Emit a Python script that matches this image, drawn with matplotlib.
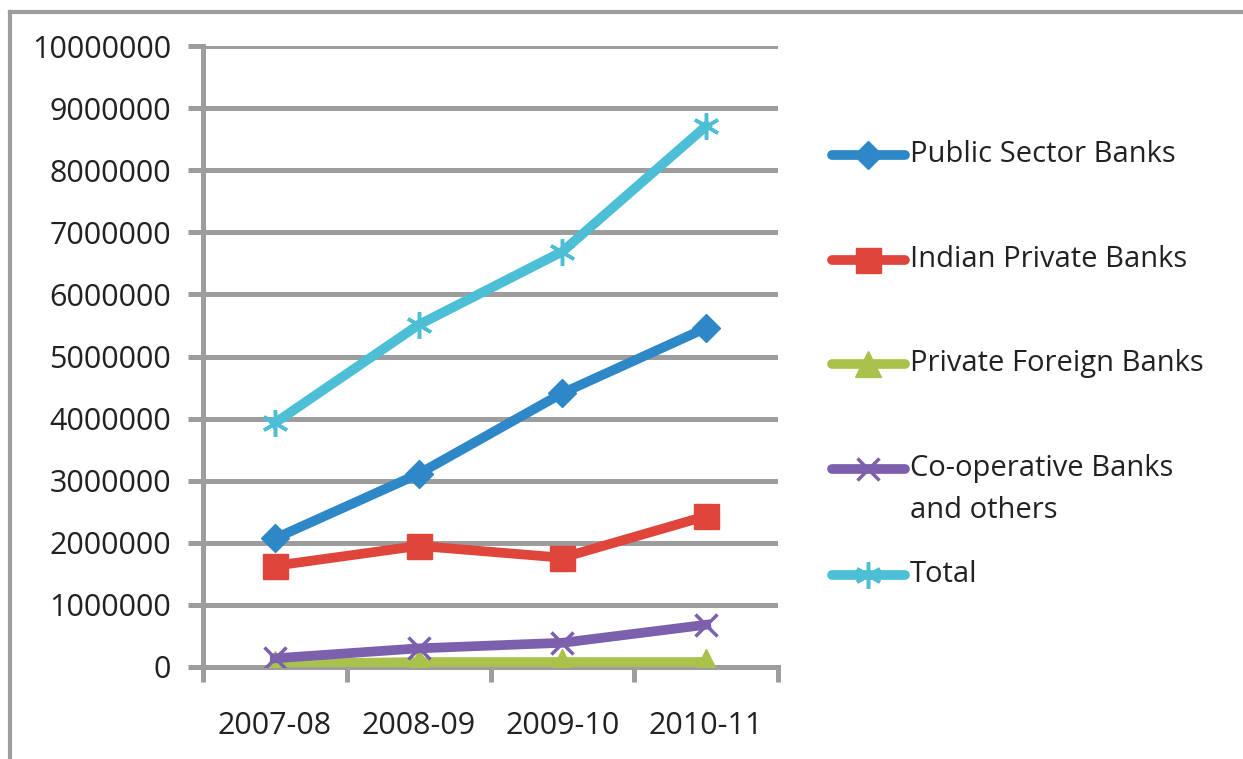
import matplotlib.pyplot as plt
from matplotlib.lines import Line2D

years = ["2007-08", "2008-09", "2009-10", "2010-11"]
public_sector = [2070000, 3110000, 4410000, 5460000]
indian_private = [1630000, 1950000, 1760000, 2430000]
private_foreign = [50000, 80000, 80000, 80000]
cooperative = [140000, 300000, 390000, 680000]
total = [3930000, 5510000, 6690000, 8710000]

plt.rcParams['font.family'] = ['Open Sans', 'DejaVu Sans']

W, H = 1243, 759
fig = plt.figure(figsize=(W/100, H/100), dpi=100)
ax = fig.add_axes([203/W, 1 - 667/H, 575/W, 621/H])

x = range(len(years))
series = [
	("Public Sector Banks", public_sector, "#2e87c6", dict(marker="D", ms=14)),
	("Indian Private Banks", indian_private, "#e0453c", dict(marker="s", ms=18)),
	("Private Foreign Banks", private_foreign, "#a9c24b", dict(marker="^", ms=19)),
	("Co-operative Banks\nand others", cooperative, "#7d60ad", dict(marker="x", ms=16, mew=2.5)),
	("Total", total, "#4cbfd6", dict(marker=(6, 2, 0), ms=19, mew=2.5)),
]
for label, vals, col, mk in series:
	ax.plot(x, vals, color=col, lw=7, mec=col, mfc=col, zorder=3, **mk)

ax.set_xlim(-0.5, 3.5)
ax.set_ylim(0, 10000000)
ax.set_yticks(range(0, 10000001, 1000000))
ax.set_yticklabels([str(v) for v in range(0, 10000001, 1000000)])
ax.set_xticks(list(x))
ax.set_xticklabels(years)
ax.set_xticks([-0.5, 0.5, 1.5, 2.5, 3.5], minor=True)

grey = "#9d9d9d"
ax.grid(axis="y", color=grey, lw=3.6, zorder=0)
for s in ["top", "right"]:
	ax.spines[s].set_visible(False)
for s in ["left", "bottom"]:
	ax.spines[s].set_color(grey)
	ax.spines[s].set_linewidth(3.6)
ax.tick_params(axis="y", length=11, width=3.6, color=grey, labelsize=22, pad=12, labelcolor="#222222")
ax.tick_params(axis="x", which="major", length=0, labelsize=22, pad=32, labelcolor="#222222")
ax.tick_params(axis="x", which="minor", length=11, width=3.6, color=grey)

# legend drawn by hand, Excel style (handle lined up with first text line)
legend_y = [155, 260, 364, 469, 575]
for (label, vals, col, mk), ly in zip(series, legend_y):
	yf = 1 - ly/H
	fig.add_artist(Line2D([832/W, 868/W, 905/W], [yf, yf, yf], color=col, lw=7,
		mec=col, mfc=col, markevery=[1], solid_capstyle="round", **mk))
	for j, part in enumerate(label.split("\n")):
		fig.text(910/W, 1 - (ly + 41*j)/H, part, fontsize=21, color="#222222", va="center")

# outer chart border
fig.add_artist(Line2D([10/W, 10/W], [0, 1 - 12/H], color=grey, lw=3))
fig.add_artist(Line2D([10/W, 1], [1 - 12/H, 1 - 12/H], color=grey, lw=3))

fig.savefig("out.png", dpi=100)
